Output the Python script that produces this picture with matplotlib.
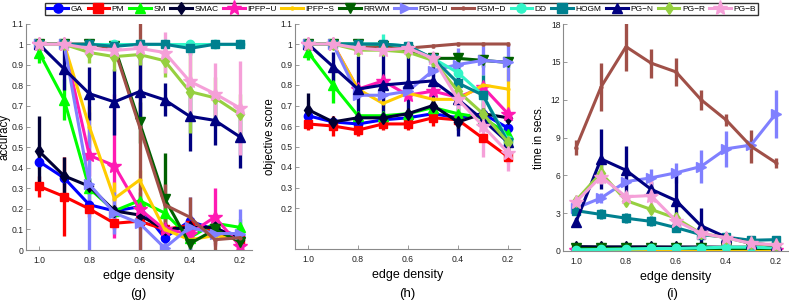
import numpy as np
import matplotlib
matplotlib.use('Agg')
import matplotlib.pyplot as plt
from matplotlib.lines import Line2D

plt.rcParams['font.family'] = ['Liberation Sans', 'DejaVu Sans']

# edge density (x axis, shown reversed)
density = [1.0, 0.9, 0.8, 0.7, 0.6, 0.5, 0.4, 0.3, 0.2]

methods = ['GA', 'PM', 'SM', 'SMAC', 'IPFP-U', 'IPFP-S', 'RRWM',
           'FGM-U', 'FGM-D', 'DD', 'HOGM', 'PG-N', 'PG-R', 'PG-B']
labels = ['GA', 'PM', 'SM', 'SMAC', 'IPFP\u2212U', 'IPFP\u2212S', 'RRWM',
          'FGM\u2212U', 'FGM\u2212D', 'DD', 'HOGM', 'PG\u2212N', 'PG\u2212R', 'PG\u2212B']
colors = ['#0000ff', '#ff0000', '#00ff00', '#000033', '#ff1ab3', '#ffcc00',
          '#006000', '#8080ff', '#a05048', '#33f5c8', '#00808f', '#000080',
          '#96d040', '#f5a0d8']
markers = ['o', 's', '^', 'd', '*', '.', 'v', '>', '.', 'o', 's', '^', 'd', '*']
msizes = [6, 6, 7, 6, 10, 4, 7, 7, 4, 6, 6, 7, 6, 10]

# (g) accuracy
acc_mean = [
    [0.43, 0.35, 0.22, 0.19, 0.21, 0.06, 0.14, 0.10, 0.07],
    [0.31, 0.26, 0.20, 0.13, 0.14, 0.10, 0.12, 0.09, 0.05],
    [0.96, 0.73, 0.30, 0.19, 0.24, 0.18, 0.06, 0.13, 0.11],
    [0.48, 0.36, 0.31, 0.19, 0.17, 0.10, 0.11, 0.11, 0.05],
    [1.00, 1.00, 0.46, 0.41, 0.20, 0.10, 0.08, 0.16, 0.02],
    [1.00, 1.00, 0.60, 0.25, 0.34, 0.10, 0.05, 0.07, 0.05],
    [1.00, 1.00, 1.00, 0.99, 0.62, 0.25, 0.03, 0.10, 0.04],
    [1.00, 1.00, 0.32, 0.18, 0.13, 0.01, 0.11, 0.08, 0.08],
    [1.00, 1.00, 1.00, 0.98, 0.60, 0.22, 0.16, 0.05, 0.06],
    [1.00, 1.00, 1.00, 1.00, 1.00, 1.00, 1.00, 1.00, 1.00],
    [1.00, 1.00, 1.00, 0.99, 1.00, 1.00, 0.98, 1.00, 1.00],
    [1.00, 0.88, 0.76, 0.72, 0.77, 0.73, 0.65, 0.63, 0.55],
    [1.00, 1.00, 0.96, 0.94, 0.95, 0.92, 0.77, 0.74, 0.66],
    [1.00, 1.00, 0.98, 0.97, 0.98, 0.96, 0.82, 0.76, 0.69],
]
acc_err = [
    [0.03, 0.03, 0.03, 0.02, 0.03, 0.02, 0.03, 0.03, 0.02],
    [0.05, 0.19, 0.04, 0.03, 0.03, 0.03, 0.03, 0.03, 0.03],
    [0.05, 0.10, 0.05, 0.03, 0.04, 0.04, 0.04, 0.04, 0.04],
    [0.17, 0.09, 0.04, 0.03, 0.03, 0.03, 0.03, 0.03, 0.03],
    [0.00, 0.00, 0.10, 0.35, 0.10, 0.04, 0.04, 0.14, 0.03],
    [0.00, 0.00, 0.10, 0.08, 0.05, 0.05, 0.04, 0.04, 0.03],
    [0.00, 0.00, 0.00, 0.02, 0.10, 0.22, 0.03, 0.05, 0.03],
    [0.00, 0.02, 0.35, 0.10, 0.13, 0.03, 0.15, 0.05, 0.12],
    [0.00, 0.00, 0.00, 0.02, 0.60, 0.10, 0.10, 0.05, 0.03],
    [0.00, 0.00, 0.02, 0.02, 0.02, 0.02, 0.02, 0.02, 0.01],
    [0.00, 0.00, 0.01, 0.01, 0.01, 0.01, 0.03, 0.01, 0.01],
    [0.01, 0.10, 0.13, 0.16, 0.18, 0.08, 0.17, 0.12, 0.15],
    [0.00, 0.01, 0.05, 0.07, 0.05, 0.08, 0.20, 0.10, 0.10],
    [0.00, 0.01, 0.02, 0.03, 0.02, 0.10, 0.17, 0.15, 0.23],
]

# (h) objective score
obj_mean = [
    [0.65, 0.62, 0.61, 0.63, 0.64, 0.66, 0.64, 0.66, 0.59],
    [0.61, 0.60, 0.58, 0.61, 0.61, 0.64, 0.63, 0.54, 0.45],
    [0.96, 0.80, 0.65, 0.65, 0.66, 0.69, 0.66, 0.64, 0.56],
    [0.68, 0.62, 0.64, 0.64, 0.66, 0.70, 0.62, 0.66, 0.64],
    [1.00, 1.00, 0.78, 0.82, 0.75, 0.77, 0.74, 0.79, 0.66],
    [1.00, 1.00, 0.78, 0.71, 0.76, 0.73, 0.73, 0.80, 0.78],
    [1.00, 1.00, 1.00, 0.99, 0.97, 0.93, 0.93, 0.92, 0.91],
    [1.00, 1.00, 0.75, 0.75, 0.77, 0.87, 0.90, 0.92, 0.91],
    [1.00, 1.00, 0.99, 0.98, 0.98, 0.99, 1.00, 1.00, 1.00],
    [1.00, 1.00, 1.00, 1.00, 0.99, 0.93, 0.86, 0.75, 0.53],
    [1.00, 1.00, 1.00, 1.00, 0.99, 0.93, 0.81, 0.75, 0.52],
    [1.00, 0.89, 0.78, 0.80, 0.81, 0.82, 0.73, 0.63, 0.52],
    [1.00, 1.00, 0.97, 0.97, 0.96, 0.92, 0.77, 0.66, 0.52],
    [1.00, 1.00, 0.98, 0.97, 0.98, 0.93, 0.73, 0.60, 0.47],
]
obj_err = [
    [0.02, 0.02, 0.02, 0.02, 0.02, 0.02, 0.02, 0.02, 0.02],
    [0.03, 0.05, 0.03, 0.03, 0.03, 0.04, 0.02, 0.02, 0.03],
    [0.04, 0.09, 0.02, 0.02, 0.02, 0.02, 0.03, 0.02, 0.03],
    [0.08, 0.02, 0.02, 0.02, 0.02, 0.02, 0.04, 0.03, 0.02],
    [0.00, 0.00, 0.02, 0.03, 0.03, 0.03, 0.03, 0.02, 0.03],
    [0.00, 0.00, 0.02, 0.03, 0.02, 0.02, 0.02, 0.02, 0.10],
    [0.00, 0.00, 0.01, 0.01, 0.01, 0.01, 0.03, 0.03, 0.02],
    [0.00, 0.00, 0.02, 0.02, 0.02, 0.03, 0.08, 0.07, 0.09],
    [0.00, 0.00, 0.01, 0.01, 0.01, 0.01, 0.01, 0.01, 0.01],
    [0.00, 0.00, 0.01, 0.05, 0.02, 0.02, 0.05, 0.05, 0.05],
    [0.00, 0.00, 0.01, 0.02, 0.02, 0.02, 0.10, 0.10, 0.05],
    [0.01, 0.07, 0.16, 0.17, 0.13, 0.12, 0.18, 0.05, 0.05],
    [0.00, 0.00, 0.02, 0.02, 0.02, 0.03, 0.05, 0.05, 0.05],
    [0.00, 0.00, 0.01, 0.02, 0.02, 0.03, 0.08, 0.15, 0.09],
]

# (i) running time in seconds
time_mean = [
    [0.05, 0.06, 0.06, 0.07, 0.07, 0.08, 0.08, 0.09, 0.09],
    [0.04, 0.04, 0.05, 0.05, 0.05, 0.06, 0.06, 0.06, 0.06],
    [0.08, 0.08, 0.08, 0.08, 0.08, 0.08, 0.08, 0.08, 0.08],
    [0.35, 0.33, 0.33, 0.33, 0.32, 0.32, 0.30, 0.30, 0.28],
    [0.10, 0.10, 0.10, 0.10, 0.10, 0.10, 0.10, 0.10, 0.10],
    [0.12, 0.12, 0.12, 0.12, 0.12, 0.12, 0.12, 0.12, 0.12],
    [0.25, 0.25, 0.25, 0.25, 0.25, 0.25, 0.25, 0.25, 0.25],
    [3.40, 4.20, 5.50, 5.80, 6.20, 6.70, 8.10, 8.40, 10.90],
    [8.20, 13.00, 16.20, 14.90, 14.20, 12.00, 10.40, 8.30, 7.00],
    [0.10, 0.12, 0.15, 0.20, 0.20, 0.25, 0.30, 0.30, 0.25],
    [3.20, 2.90, 2.60, 2.35, 1.85, 1.30, 1.10, 0.85, 0.90],
    [2.30, 7.30, 6.40, 4.90, 4.00, 2.00, 1.10, 0.60, 0.45],
    [4.00, 6.20, 4.00, 3.30, 2.60, 1.40, 1.05, 0.60, 0.45],
    [3.90, 5.90, 4.30, 4.40, 2.40, 1.40, 1.05, 0.60, 0.50],
]
time_err = [
    [0.05, 0.05, 0.05, 0.05, 0.05, 0.05, 0.05, 0.05, 0.05],
    [0.05, 0.05, 0.05, 0.05, 0.05, 0.05, 0.05, 0.05, 0.05],
    [0.05, 0.05, 0.05, 0.05, 0.05, 0.05, 0.05, 0.05, 0.05],
    [0.05, 0.05, 0.05, 0.05, 0.05, 0.05, 0.05, 0.05, 0.05],
    [0.15, 0.15, 0.15, 0.15, 0.15, 0.15, 0.15, 0.15, 0.15],
    [0.05, 0.05, 0.05, 0.05, 0.05, 0.05, 0.05, 0.05, 0.05],
    [0.05, 0.05, 0.05, 0.05, 0.05, 0.05, 0.05, 0.05, 0.05],
    [0.30, 0.40, 0.50, 0.70, 0.80, 1.30, 1.40, 0.30, 1.90],
    [0.60, 1.90, 1.90, 1.15, 1.10, 0.80, 0.50, 1.30, 0.40],
    [0.05, 0.05, 0.05, 0.05, 0.05, 0.05, 0.05, 0.05, 0.05],
    [0.30, 0.40, 0.40, 0.40, 0.30, 0.20, 0.20, 0.20, 0.20],
    [0.30, 2.40, 1.90, 0.60, 2.20, 1.40, 0.30, 0.20, 0.20],
    [0.30, 0.80, 0.40, 0.40, 0.40, 0.30, 0.20, 0.20, 0.20],
    [0.30, 0.60, 0.40, 1.50, 0.40, 0.30, 0.20, 0.20, 0.20],
]

W, H = 789, 306
fig = plt.figure(figsize=(W / 100, H / 100), dpi=100)

def px_axes(x0, x1, ytop, ybot):
    return fig.add_axes([x0 / W, 1 - ybot / H, (x1 - x0) / W, (ybot - ytop) / H])

def style(ax, ylim, yticks, yticklabels, ylabel, ylab_x):
    for s in ['top', 'right']:
        ax.spines[s].set_visible(False)
    for s in ['left', 'bottom']:
        ax.spines[s].set_color('#8a8a8a')
        ax.spines[s].set_linewidth(0.8)
    ax.set_xlim(1.052, 0.152)
    ax.set_ylim(*ylim)
    ax.set_xticks([1.0, 0.8, 0.6, 0.4, 0.2])
    ax.set_xticklabels(['1.0', '0.8', '0.6', '0.4', '0.2'])
    ax.set_yticks(yticks)
    ax.set_yticklabels(yticklabels)
    ax.tick_params(direction='in', length=3, width=0.6, color='#8a8a8a',
                   labelsize=6.2, labelcolor='#222222')
    ax.tick_params(axis='y', pad=1.8)
    ax.tick_params(axis='x', pad=4)
    ax.set_ylabel(ylabel, fontsize=8.3)
    # label coords are the right edge of the rotated text
    ax.yaxis.set_label_coords(ylab_x, 0.5)
    ax.set_xlabel('edge density', fontsize=9, labelpad=4)

def draw(ax, means, errs):
    for i in range(len(methods)):
        ax.errorbar(density, means[i], yerr=errs[i], color=colors[i],
                    marker=markers[i], markersize=msizes[i], lw=2.2,
                    elinewidth=2.4, capsize=0, markeredgecolor=colors[i])

ax_g = px_axes(26, 252, 23.7, 250)
draw(ax_g, acc_mean, acc_err)
style(ax_g, (0, 1.1), np.arange(0, 1.11, 0.1),
      ['0', '0.1', '0.2', '0.3', '0.4', '0.5', '0.6', '0.7', '0.8', '0.9', '1', '1.1'],
      'accuracy', -0.068)

ax_h = px_axes(295, 520, 23.5, 249)
draw(ax_h, obj_mean, obj_err)
style(ax_h, (0, 1.1), np.arange(0.2, 1.11, 0.1),
      ['0.2', '0.3', '0.4', '0.5', '0.6', '0.7', '0.8', '0.9', '1', '1.1'],
      'objective score', -0.085)

ax_i = px_axes(563, 788, 24, 251)
draw(ax_i, time_mean, time_err)
style(ax_i, (0, 18), np.arange(0, 19, 3),
      ['0', '3', '6', '9', '12', '15', '18'], 'time in secs.', -0.08)

for x, t in [(138, '(g)'), (407, '(h)'), (672, '(i)')]:
    fig.text(x / W, 1 - 294 / H, t, ha='center', va='center', fontsize=9.5)

handles = [Line2D([], [], color=colors[i], marker=markers[i], lw=2.2,
                  markersize=msizes[i] * 1.1) for i in range(len(methods))]
leg = fig.legend(handles, labels, loc='center', ncol=len(methods),
                 bbox_to_anchor=(401.5 / W, 1 - 9 / H), fontsize=6,
                 handlelength=2.6, handletextpad=0.3, columnspacing=0.55,
                 borderpad=0.25, frameon=True, fancybox=False)
leg.get_frame().set_edgecolor('black')
leg.get_frame().set_linewidth(1.0)

fig.savefig('out.png', dpi=100)
